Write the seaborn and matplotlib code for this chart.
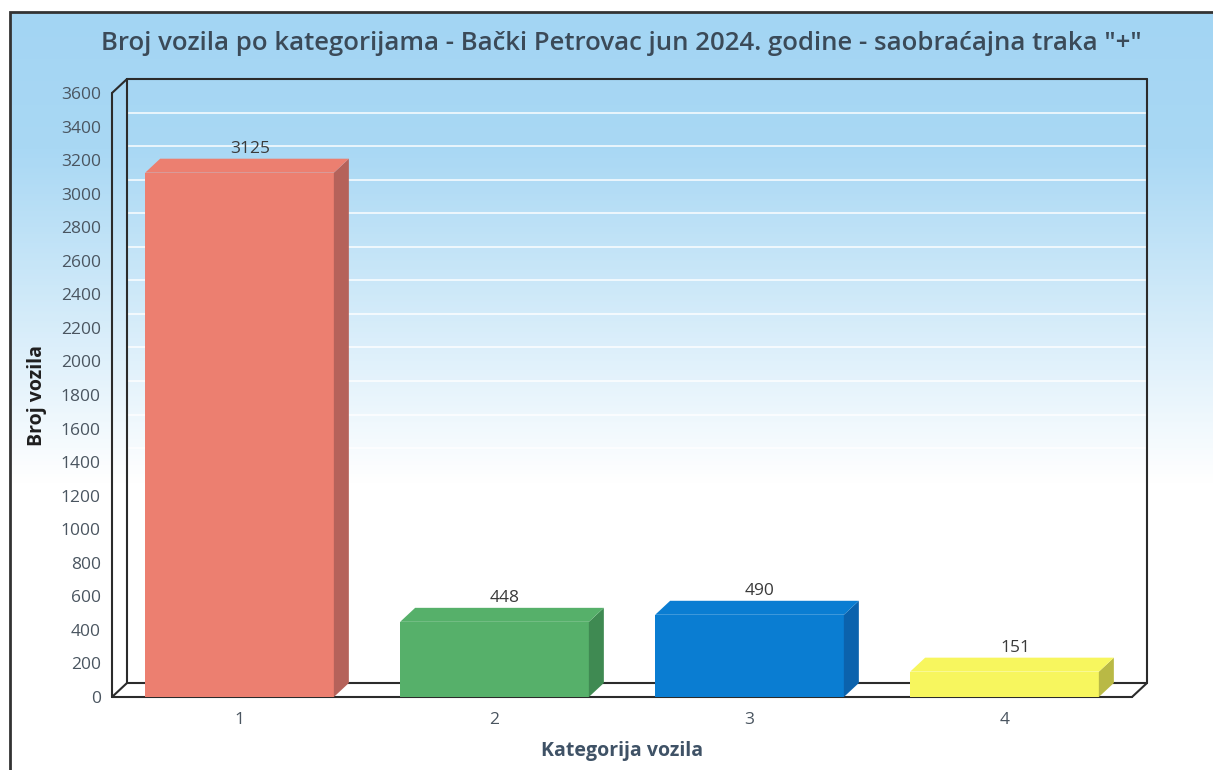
import numpy as np
import pandas as pd
import seaborn as sns
from matplotlib import pyplot as plt
from matplotlib.patches import Polygon, Rectangle
from matplotlib.colors import LinearSegmentedColormap

# podaci
kategorije = ["1", "2", "3", "4"]
broj_vozila = [3125, 448, 490, 151]
boje = ["#ec7f70", "#56b06a", "#0a7dd2", "#f7f65e"]
boje_strana = ["#b5625a", "#3f8a52", "#0b62ad", "#b9b945"]
y_ticks = list(range(0, 3601, 200))

naslov = 'Broj vozila po kategorijama - Bački Petrovac jun 2024. godine - saobraćajna traka "+"'

sns.set_style("white")
plt.rcParams['font.family'] = ['Open Sans', 'DejaVu Sans']

W, H = 1213, 770
fig = plt.figure(figsize=(W / 100, H / 100), dpi=100)
fig.patch.set_facecolor("white")

# pozadina sa gradijentom (plavo -> belo)
bg = fig.add_axes([10 / W, 0, 1 - 10 / W, (H - 12) / H], zorder=-10)
grad = np.linspace(0, 1, 400).reshape(-1, 1)
cmap_bg = LinearSegmentedColormap.from_list("bg", [(0, "#a3d5f3"), (0.18, "#a9d8f4"), (0.62, "#ffffff"), (1, "#ffffff")])
bg.imshow(grad, aspect="auto", cmap=cmap_bg, extent=[0, 1, 0, 1], origin="upper")
bg.set_xlim(0, 1)
bg.set_ylim(0, 1)
bg.axis("off")
fig.add_artist(Rectangle((10 / W, -0.01), 1.2, (H - 12) / H + 0.01, transform=fig.transFigure,
                         fill=False, edgecolor="#333333", lw=2))

# glavna osa (prednja ravan)
x0_px, x1_px = 112, 1132
y0_px, y1_px = 697, 93
ax = fig.add_axes([x0_px / W, (H - y0_px) / H, (x1_px - x0_px) / W, (y0_px - y1_px) / H])
ax.patch.set_alpha(0)

df = pd.DataFrame({"kategorija": kategorije, "broj": broj_vozila})
sns.barplot(data=df, x="kategorija", y="broj", hue="kategorija", palette=boje,
            saturation=1, width=0.74, legend=False, ax=ax, zorder=5)

ax.set_xlim(-0.5, 3.5)
ax.set_ylim(0, 3600)

# dubina 3D efekta u jedinicama podataka
dx = 15 / ((x1_px - x0_px) / 4)
dy = 14 / ((y0_px - y1_px) / 3600)

# zidovi i pod
kw = dict(color="#2b2b2b", lw=1.5, clip_on=False, zorder=2)
ax.plot([-0.5, -0.5 + dx], [3600, 3600 + dy], **kw)
ax.plot([-0.5, -0.5], [0, 3600], **kw)
ax.plot([-0.5 + dx, -0.5 + dx], [dy, 3600 + dy], **kw)
ax.plot([-0.5 + dx, 3.5 + dx], [3600 + dy, 3600 + dy], **kw)
ax.plot([3.5 + dx, 3.5 + dx], [dy, 3600 + dy], **kw)
ax.plot([-0.5 + dx, 3.5 + dx], [dy, dy], **kw)
ax.plot([-0.5, 3.5], [0, 0], **kw)
ax.plot([-0.5, -0.5 + dx], [0, dy], **kw)
ax.plot([3.5, 3.5 + dx], [0, dy], **kw)
for t in y_ticks[1:-1]:
    ax.plot([-0.5 + dx, 3.5 + dx], [t + dy, t + dy], color="white", lw=1.4, alpha=0.75,
            clip_on=False, zorder=1)

# 3D strane stubica
for p, c, cs, v in zip(ax.patches, boje, boje_strana, broj_vozila):
    xa = p.get_x()
    w = p.get_width()
    h = p.get_height()
    p.set_edgecolor("none")
    side = Polygon([(xa + w, 0), (xa + w + dx, dy), (xa + w + dx, h + dy), (xa + w, h)],
                   closed=True, facecolor=cs, edgecolor="none", clip_on=False, zorder=6)
    top = Polygon([(xa, h), (xa + dx, h + dy), (xa + w + dx, h + dy), (xa + w, h)],
                  closed=True, facecolor=c, edgecolor="none", clip_on=False, zorder=6)
    ax.add_patch(side)
    ax.add_patch(top)
    ax.text(xa + w / 2 + dx * 0.7, h + dy + 12, str(v), ha="center", va="bottom",
            fontsize=12.5, color="#3a3a3a", zorder=7)

sns.despine(ax=ax, left=True, bottom=True)
ax.set_yticks(y_ticks)
ax.set_yticklabels([str(t) for t in y_ticks])
ax.tick_params(axis="both", length=0, labelsize=12.5, labelcolor="#4a5560")
ax.tick_params(axis="y", pad=8)
ax.tick_params(axis="x", pad=11)

ax.set_xlabel("Kategorija vozila", fontsize=14, fontweight="bold", color="#3f5266", labelpad=9)
ax.set_ylabel("Broj vozila", fontsize=14, fontweight="bold", color="#1f1f1f", labelpad=10)

fig.text(621 / W, 1 - 43 / H, naslov, ha="center", va="center", fontsize=18.5,
         fontweight="semibold", color="#3b4a58")

fig.savefig("out.png", dpi=100)
